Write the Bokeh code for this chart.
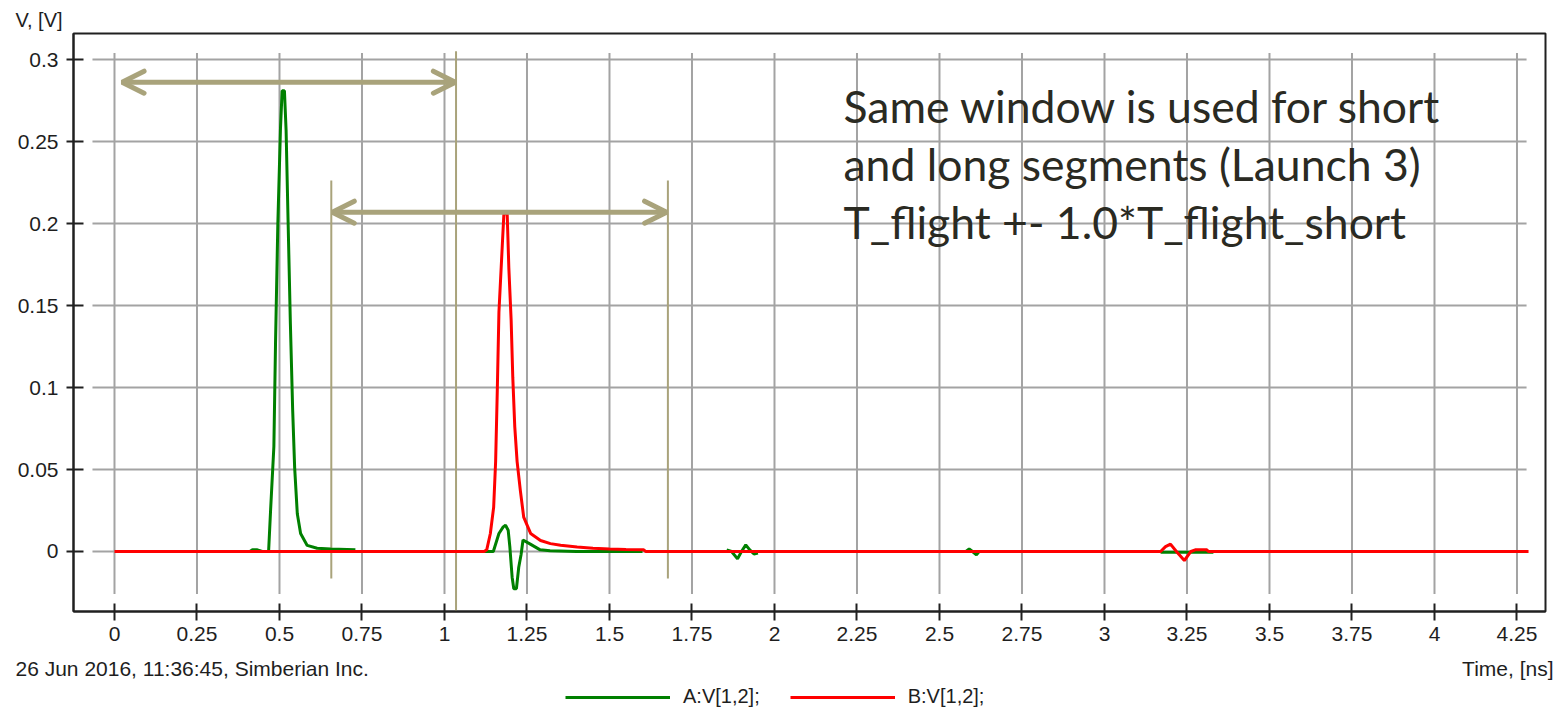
from bokeh.plotting import figure
from bokeh.models import (Range1d, FixedTicker, Label, Arrow, OpenHead, Legend,
                          LegendItem, Title)
from bokeh.embed import file_html
from bokeh.resources import INLINE

# ---------------- data ----------------
x_ticks = [0, 0.25, 0.5, 0.75, 1, 1.25, 1.5, 1.75, 2, 2.25, 2.5, 2.75, 3, 3.25, 3.5, 3.75, 4, 4.25]
x_tick_labels = ["0", "0.25", "0.5", "0.75", "1", "1.25", "1.5", "1.75", "2", "2.25",
                 "2.5", "2.75", "3", "3.25", "3.5", "3.75", "4", "4.25"]
y_ticks = [0, 0.05, 0.1, 0.15, 0.2, 0.25, 0.3]
y_tick_labels = ["0", "0.05", "0.1", "0.15", "0.2", "0.25", "0.3"]

# Series A: V[1,2] (green), drawn as separate visible pieces
a_seg1_t = [0.41, 0.418, 0.433, 0.448, 0.467, 0.473, 0.483, 0.488, 0.495, 0.503, 0.508,
            0.515, 0.520, 0.526, 0.533, 0.540, 0.546, 0.554, 0.564, 0.584, 0.614, 0.655, 0.73]
a_seg1_v = [0.0, 0.001, 0.001, 0.0, 0.0, 0.025, 0.064, 0.127, 0.200, 0.258, 0.281,
            0.281, 0.257, 0.202, 0.139, 0.086, 0.051, 0.023, 0.011, 0.0037, 0.002, 0.0015, 0.001]
a_seg2_t = [1.084, 1.148, 1.165, 1.178, 1.185, 1.193, 1.198, 1.205, 1.210, 1.218, 1.225,
            1.232, 1.238, 1.260, 1.290, 1.320, 1.400, 1.600]
a_seg2_v = [0.0, 0.0, 0.011, 0.015, 0.016, 0.013, 0.003, -0.0157, -0.0227, -0.0227, -0.0096,
            -0.002, 0.007, 0.0045, 0.001, 0.0005, 0.0, 0.0]
a_seg3_t = [1.855, 1.870, 1.888, 1.900, 1.913, 1.925, 1.938, 1.950]
a_seg3_v = [0.001, 0.0, -0.0045, 0.0, 0.004, 0.001, -0.0015, -0.001]
a_seg4_t = [2.58, 2.59, 2.60, 2.612, 2.62]
a_seg4_v = [0.0, 0.0015, 0.0, -0.002, 0.0]
a_seg5_t = [3.17, 3.33]
a_seg5_v = [-0.0004, -0.0004]

# Series B: V[1,2] (red)
b_t = [0.0, 1.12, 1.128, 1.139, 1.149, 1.155, 1.160, 1.165, 1.175, 1.180, 1.190, 1.195, 1.202,
       1.207, 1.213, 1.220, 1.230, 1.240, 1.261, 1.291, 1.321, 1.352, 1.402, 1.45, 1.5,
       1.55, 1.603, 1.61, 3.17, 3.185, 3.20, 3.218, 3.242, 3.262, 3.275, 3.31, 3.315, 4.285]
b_v = [0.0, 0.0, 0.001, 0.011, 0.027, 0.055, 0.098, 0.146, 0.186, 0.206, 0.206, 0.173, 0.141,
       0.106, 0.076, 0.055, 0.037, 0.021, 0.011, 0.0067, 0.0048, 0.0038, 0.0027, 0.002, 0.0015,
       0.0012, 0.001, 0.0, 0.0, 0.003, 0.0045, 0.0, -0.0055, 0.0, 0.001, 0.001, 0.0, 0.0]

# time windows (arrows) and window edge markers
win_long = [0.023, 1.033]
win_long_v = 0.2862
win_short = [0.66, 1.673]
win_short_v = 0.2069
edge_t = [1.035, 0.657, 1.677]
edge_top = [0.305, 0.2262, 0.2262]
edge_bottom = [-0.05, -0.0165, -0.0165]

note_lines = ["Same window is used for short",
              "and long segments (Launch 3)",
              "T_flight +- 1.0*T_flight_short"]
series_labels = ["A:V[1,2];", "B:V[1,2];"]
footer_text = "26 Jun 2016, 11:36:45, Simberian Inc."
x_label = "Time, [ns]"
y_label = "V, [V]"

# ---------------- styles ----------------
OLIVE = "#A9A37B"
GRID = "#A3A3A3"
GREEN = "#008000"
RED = "#FF0000"
FONT = "Liberation Sans"
TXT = "#1e1e1e"

p = figure(width=1560, height=652,
           x_range=Range1d(-0.1242, 4.3364), y_range=Range1d(-0.0366, 0.3159),
           output_backend="svg", toolbar_location=None,
           min_border_left=73, min_border_right=15, min_border_top=33, min_border_bottom=41)
p.xgrid.visible = False
p.ygrid.visible = False
p.background_fill_color = "white"
p.border_fill_color = "white"
p.outline_line_color = "#202020"
p.outline_line_width = 2

for ax, ticks, labels in ((p.xaxis, x_ticks, x_tick_labels), (p.yaxis, y_ticks, y_tick_labels)):
    ax.ticker = FixedTicker(ticks=ticks)
    ax.major_label_overrides = {t: l for t, l in zip(ticks, labels)}
    ax.minor_tick_line_color = None
    ax.axis_line_color = "#202020"
    ax.axis_line_width = 2
    ax.major_tick_line_color = "#202020"
    ax.major_tick_line_width = 2
    ax.major_label_text_font = FONT
    ax.major_label_text_font_size = "21px"
    ax.major_label_text_color = TXT
p.xaxis.major_tick_in = 8
p.xaxis.major_tick_out = 9
p.xaxis.major_label_standoff = 6
p.yaxis.major_tick_in = 10
p.yaxis.major_tick_out = 7
p.yaxis.major_label_standoff = 8

p.add_layout(Title(text=y_label, align="left", offset=-58, standoff=6, text_font=FONT,
                   text_font_size="20px", text_font_style="normal", text_color=TXT), "above")

# grid lines (shorter than the frame, as in the original)
p.segment(x0=x_ticks, x1=x_ticks, y0=-0.0259, y1=0.304, line_color=GRID, line_width=2)
p.segment(x0=-0.0667, x1=4.279, y0=y_ticks, y1=y_ticks, line_color=GRID, line_width=2)

# window edge markers
p.segment(x0=edge_t, x1=edge_t, y0=edge_bottom, y1=edge_top, line_color=OLIVE, line_width=2)

# curves
p.multi_line(xs=[a_seg1_t, a_seg2_t, a_seg3_t, a_seg4_t, a_seg5_t],
             ys=[a_seg1_v, a_seg2_v, a_seg3_v, a_seg4_v, a_seg5_v],
             line_color=GREEN, line_width=3)
p.line(b_t, b_v, line_color=RED, line_width=3)

# arrows
for xs, yv in ((win_long, win_long_v), (win_short, win_short_v)):
    p.add_layout(Arrow(x_start=xs[0], y_start=yv, x_end=xs[1], y_end=yv,
                       line_color=OLIVE, line_width=5,
                       start=OpenHead(size=22, line_color=OLIVE, line_width=5, line_cap="round"),
                       end=OpenHead(size=22, line_color=OLIVE, line_width=5, line_cap="round")))

# note text (screen units relative to the frame)
for i, line in enumerate(note_lines):
    p.add_layout(Label(x=770, y=506 - 58 * i, x_units="screen", y_units="screen", text=line,
                       text_font="Lato", text_font_size="44.5px", text_color="#2a2a22",
                       text_baseline="alphabetic"))

# ---------------- footer row: stamp, axis name, legend (separate root) ----------------
f = figure(width=1560, height=60, x_range=Range1d(0, 1), y_range=Range1d(0, 1),
           x_axis_type=None, y_axis_type=None, output_backend="svg", toolbar_location=None,
           min_border=0, min_border_left=0, min_border_right=0, min_border_top=0,
           min_border_bottom=0)
f.grid.visible = False
f.outline_line_color = None
f.background_fill_color = "white"
f.border_fill_color = "white"

nan = float("nan")
ga = f.line(x=[nan, nan], y=[nan, nan], line_color=GREEN, line_width=3)
rb = f.line(x=[nan, nan], y=[nan, nan], line_color=RED, line_width=3)
legend = Legend(items=[LegendItem(label=series_labels[0], renderers=[ga]),
                       LegendItem(label=series_labels[1], renderers=[rb])],
                location=(565, 4), orientation="horizontal",
                glyph_width=105, glyph_height=22, label_height=22, label_standoff=13,
                spacing=30, padding=0, margin=0, border_line_color=None,
                background_fill_alpha=0, label_text_font=FONT, label_text_font_size="20px",
                label_text_color=TXT)
f.add_layout(legend, "center")

f.add_layout(Label(x=15, y=44, x_units="screen", y_units="screen", text=footer_text,
                   text_font=FONT, text_font_size="21px", text_color=TXT, text_baseline="middle"))
f.add_layout(Label(x=1553, y=44, x_units="screen", y_units="screen", text=x_label,
                   text_font=FONT, text_font_size="21px", text_color=TXT, text_baseline="middle",
                   text_align="right"))

open("out.html", "w").write(file_html([p, f], INLINE))
